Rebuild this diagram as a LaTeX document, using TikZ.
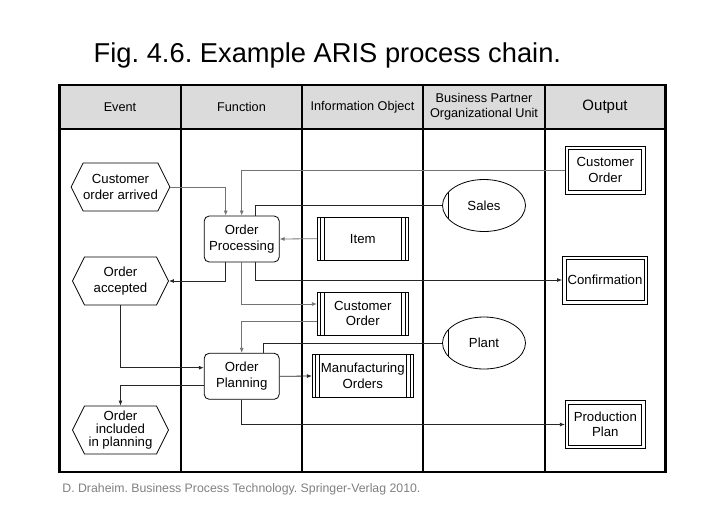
\documentclass[tikz,border=0pt]{standalone}
\usepackage{fontspec}
\setmainfont{Liberation Sans}
\usetikzlibrary{shapes.symbols,shapes.geometric,arrows.meta}
\tikzset{>={Latex[length=5pt,width=4pt]}}
\frenchspacing

\begin{document}
\begin{tikzpicture}[x=1pt, y=-1pt, line width=0.8pt,
                    font=\fontsize{13.2}{15.5}\selectfont]

  \tikzset{evt/.style={draw, signal, signal to=east and west, signal from=nowhere,
                       signal pointer angle=127, minimum width=96pt,
                       minimum height=48pt, inner sep=0pt, align=center},
           fun/.style={draw, rounded corners=5pt, minimum width=75pt,
                       minimum height=46pt, align=center},
           info/.style={draw, minimum width=91pt, minimum height=43pt, align=center,
                        path picture={
                          \foreach \d in {3,7} {
                            \draw ([xshift=\d pt]path picture bounding box.north west)
                               -- ([xshift=\d pt]path picture bounding box.south west);
                            \draw ([xshift=-\d pt]path picture bounding box.north east)
                               -- ([xshift=-\d pt]path picture bounding box.south east);
                          }}},
           org/.style={draw, ellipse, minimum width=83pt, minimum height=52pt,
                       path picture={
                         \draw ([xshift=6pt]path picture bounding box.north west)
                            -- ([xshift=6pt]path picture bounding box.south west);}},
           outp/.style={draw, minimum width=80pt, minimum height=48pt, align=center,
                        path picture={
                          \draw ([shift={(3.5pt,-3.5pt)}]path picture bounding box.north west)
                            rectangle ([shift={(-3.5pt,3.5pt)}]path picture bounding box.south east);}},
           hdr/.style={align=center, font=\fontsize{12.7}{15}\selectfont},
           flow/.style={->, draw=black!85},
           flowg/.style={->, draw=black!55}}

  \useasboundingbox (0,0) rectangle (728,515);

  % title and source
  \node[anchor=base west, font=\fontsize{27.3}{30}\selectfont] (title) at (90,62)
    {Fig. 4.6. Example ARIS process chain.};
  \node[anchor=base west, text=black!50, font=\fontsize{12.3}{14}\selectfont, inner sep=0pt]
    (src) at (62,492) {D. Draheim. Business Process Technology. Springer-Verlag 2010.};

  % lanes
  \fill[black!14] (59.5,85) rectangle (665.5,129);
  \draw[line width=2.5pt] (59.5,85) rectangle (665.5,472);
  \draw[line width=2pt] (59.5,129) -- (665.5,129);
  \foreach \x in {181,302,423,545}
    \draw[line width=2.5pt] (\x,85) -- (\x,472);

  \node[hdr] (hev) at (120,107) {Event};
  \node[hdr] (hfu) at (241.5,107) {Function};
  \node[hdr] (hio) at (362.5,107) {Information Object};
  \node[hdr] (hbp) at (484,107) {Business Partner\\Organizational Unit};
  \node[hdr, font=\fontsize{15}{17}\selectfont] (hout) at (605,107) {Output};

  % events
  \node[evt] (arrived) at (120.5,187) {Customer\\order arrived};
  \node[evt] (accepted) at (120.5,281) {Order\\accepted};
  \node[evt, font=\fontsize{13.2}{12.7}\selectfont] (included) at (120.5,430)
    {Order\\included\\in planning};

  % functions
  \node[fun] (proc) at (241.7,239) {Order\\Processing};
  \node[fun] (plan) at (241.7,376.3) {Order\\Planning};

  % information objects
  \node[info] (item) at (362.8,238.7) {Item};
  \node[info] (custinfo) at (362.8,313.5) {Customer\\Order};
  \node[info, minimum width=101pt] (mfg) at (362.8,376) {Manufacturing\\Orders};

  % organizational units
  \node[org] (sales) at (484,205.5) {Sales};
  \node[org] (plant) at (484,343) {Plant};

  % outputs
  \node[outp] (custout) at (605.3,170) {Customer\\Order};
  \node[outp, minimum width=85pt] (conf) at (605,280) {Confirmation};
  \node[outp] (prod) at (605.3,424.5) {Production\\Plan};

  % order processing
  \draw[flowg] (arrived.east) -| ([xshift=-16pt]proc.north);
  \draw[flowg] (custout.west) -| (proc.north);
  \draw[flow, -] (sales.west) -| ([xshift=13.3pt]proc.north);
  \draw[flowg] (item.west) -- (proc.east);
  \draw[flow] ([xshift=-16pt]proc.south) |- (accepted.east);
  \draw[flowg] (proc.south) |- ([yshift=9.5pt]custinfo.west);
  \draw[flow] ([xshift=13.3pt]proc.south) |- (conf.west);

  % order planning
  \draw[flow] (accepted.south) |- ([yshift=8.6pt]plan.west);
  \draw[flowg] ([yshift=-8.2pt]custinfo.west) -| (plan.north);
  \draw[flow, -] (plant.west) -| ([xshift=21.6pt]plan.north);
  \draw[flow] (plan.east) -- (mfg.west);
  \draw[flow] ([yshift=-9pt]plan.west) -| (included.north);
  \draw[flow] (plan.south) |- (prod.west);

\end{tikzpicture}
\end{document}
